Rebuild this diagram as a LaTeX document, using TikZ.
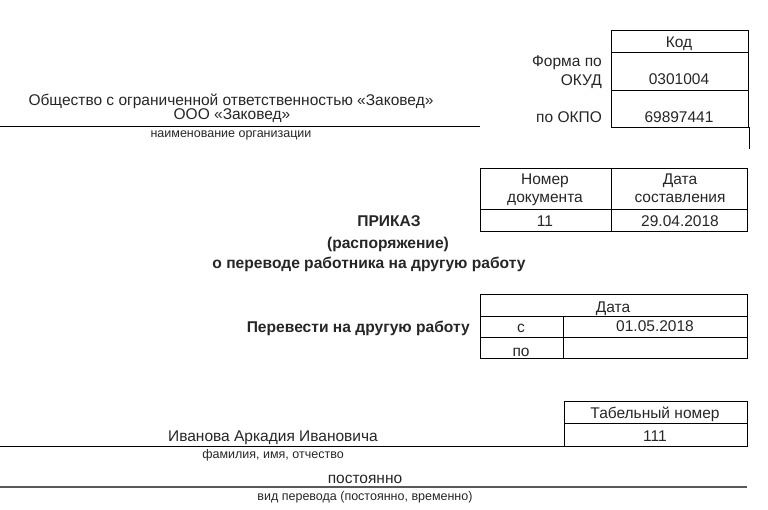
\documentclass[tikz,border=0pt]{standalone}
\usepackage{fontspec}
\setmainfont{Liberation Sans}
\begin{document}
\begin{tikzpicture}[x=1pt,y=-1pt,
  txt/.style={inner sep=0pt,anchor=base,text=black!85,font=\fontsize{15.5}{17}\selectfont},
  hint/.style={inner sep=0pt,anchor=base,text=black!85,font=\fontsize{12.5}{14}\selectfont},
  bld/.style={inner sep=0pt,anchor=base,text=black!85,font=\bfseries\fontsize{15.6}{17}\selectfont},
  frm/.style={line width=0.9pt}]
\useasboundingbox (0,0) rectangle (768,510);
% organisation
\node[txt] (org) at (231,106) {Общество с ограниченной ответственностью «Заковед»};
\node[txt] (orgshort) at (232,120) {ООО «Заковед»};
\draw[frm] (0,126) -- (480,126);
\node[hint] (orgcap) at (231,138) {наименование организации};
% codes
\draw[frm] (611,30) rectangle (748,127);
\draw[frm] (611,52) -- (748,52);
\draw[frm] (611,90) -- (748,90);
\draw[frm] (749,127) -- (749,149);
\node[txt] (kod) at (679,48) {Код};
\node[txt,anchor=base east] (forma) at (602,67) {Форма по};
\node[txt,anchor=base east] (okud) at (602,86) {ОКУД};
\node[txt] (okudval) at (679,85) {0301004};
\node[txt,anchor=base east] (okpo) at (602,123) {по ОКПО};
\node[txt] (okpoval) at (679,123) {69897441};
% number and date
\draw[frm] (480,168) rectangle (747,231);
\draw[frm] (480,209) -- (747,209);
\draw[frm] (611,168) -- (611,231);
\node[txt] (nomer) at (545,185) {Номер};
\node[txt] (nomer2) at (545,203) {документа};
\node[txt] (data) at (680,185) {Дата};
\node[txt] (data2) at (680,203) {составления};
\node[txt] (nomerval) at (545,227) {11};
\node[txt] (dataval) at (680,227) {29.04.2018};
\node[bld] (prikaz) at (389,227) {ПРИКАЗ};
\node[bld] (rasp) at (388,249) {(распоряжение)};
\node[bld] (perevod) at (369,269) {о переводе работника на другую работу};
% transfer date
\draw[frm] (480,294) rectangle (747,358);
\draw[frm] (480,316) -- (747,316);
\draw[frm] (480,337) -- (747,337);
\draw[frm] (563,316) -- (563,358);
\node[bld,anchor=base east] (perevesti) at (470,333) {Перевести на другую работу};
\node[txt] (datahead) at (613,313) {Дата};
\node[txt] (s) at (521,333) {с};
\node[txt] (sval) at (655,332) {01.05.2018};
\node[txt] (po) at (521,356) {по};
% employee
\draw[frm] (564,401) rectangle (747,446);
\draw[frm] (564,423) -- (747,423);
\node[txt] (tabel) at (655,418) {Табельный номер};
\node[txt] (tabelval) at (655,441) {111};
\node[txt] (fio) at (273,441) {Иванова Аркадия Ивановича};
\draw[frm] (0,446) -- (564,446);
\node[hint] (fiocap) at (273,458) {фамилия, имя, отчество};
\node[txt] (vid) at (365,483) {постоянно};
\draw[line width=1.4pt,black!65] (0,487) -- (747,487);
\node[hint] (vidcap) at (365,500) {вид перевода (постоянно, временно)};
\end{tikzpicture}
\end{document}
